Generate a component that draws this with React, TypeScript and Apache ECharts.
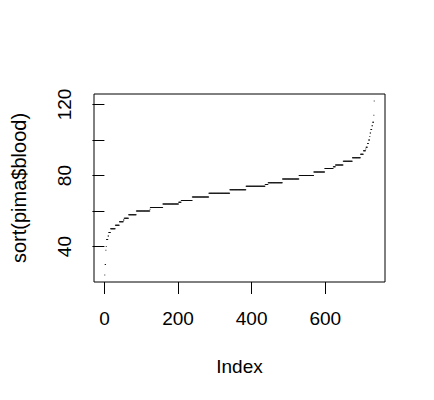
import React, { useEffect, useRef } from "react";
import * as echarts from "echarts";

// Frequency table of diastolic blood pressure (pima$blood, zeros removed)
const bpValues = [24, 30, 38, 40, 44, 46, 48, 50, 52, 54, 55, 56, 58, 60, 61, 62, 64, 65, 66, 68, 70, 72, 74, 75, 76, 78, 80, 82, 84, 85, 86, 88, 90, 92, 94, 95, 96, 98, 100, 102, 104, 106, 108, 110, 114, 122];
const bpCounts = [1, 2, 1, 1, 4, 2, 5, 13, 11, 11, 2, 12, 21, 37, 1, 34, 43, 7, 30, 45, 57, 44, 52, 8, 39, 45, 40, 30, 23, 6, 21, 25, 22, 8, 6, 1, 4, 3, 3, 1, 2, 3, 2, 3, 1, 1];

const xTicks = [0, 200, 400, 600];
const yTicks = [40, 60, 80, 100, 120];
const yLabels = [40, 80, 120];

export default function App() {
  const ref = useRef<HTMLDivElement>(null);
  useEffect(() => {
    if (!ref.current) return;
    const chart = echarts.init(ref.current, null, { renderer: "svg" });
    const sorted: number[] = [];
    bpValues.forEach((v, i) => {
      for (let k = 0; k < bpCounts[i]; k++) sorted.push(v);
    });
    const data = sorted.map((v, i) => [i + 1, v]);
    const n = sorted.length;
    const xr = n - 1;
    const ymin = sorted[0];
    const ymax = sorted[n - 1];
    const yr = ymax - ymin;
    const font = "'Liberation Sans', Arial, sans-serif";
    chart.setOption({
      animation: false,
      backgroundColor: "#ffffff",
      grid: {
        left: 94,
        top: 94,
        width: 291,
        height: 188,
        show: true,
        borderColor: "#000000",
        borderWidth: 1,
        backgroundColor: "transparent",
      },
      xAxis: {
        type: "value",
        min: 1 - 0.04 * xr,
        max: n + 0.04 * xr,
        name: "Index",
        nameLocation: "middle",
        nameGap: 75,
        nameTextStyle: { color: "#000", fontSize: 19, fontFamily: font },
        axisLine: { show: false },
        splitLine: { show: false },
        axisTick: {
          show: true,
          length: 12,
          customValues: xTicks,
          lineStyle: { color: "#000", width: 1 },
        },
        axisLabel: {
          customValues: xTicks,
          margin: 27,
          color: "#000",
          fontSize: 19,
          fontFamily: font,
        },
      },
      yAxis: {
        type: "value",
        min: ymin - 0.04 * yr,
        max: ymax + 0.04 * yr,
        name: "sort(pima$blood)",
        nameLocation: "middle",
        nameRotate: 90,
        nameGap: 65,
        nameTextStyle: { color: "#000", fontSize: 20, fontFamily: font },
        axisLine: { show: false },
        splitLine: { show: false },
        axisTick: {
          show: true,
          length: 12,
          customValues: yTicks,
          lineStyle: { color: "#000", width: 1 },
        },
        axisLabel: {
          customValues: yLabels,
          rotate: 90,
          margin: 20,
          color: "#000",
          fontSize: 19,
          fontFamily: font,
        },
      },
      series: [
        {
          type: "scatter",
          data,
          symbol: "rect",
          symbolSize: [1, 1],
          itemStyle: { color: "#000000" },
          silent: true,
        },
      ],
    });
    return () => chart.dispose();
  }, []);
  return (
    <div
      ref={ref}
      style={{ position: "absolute", left: 0, top: 0, width: 434, height: 400 }}
    />
  );
}
